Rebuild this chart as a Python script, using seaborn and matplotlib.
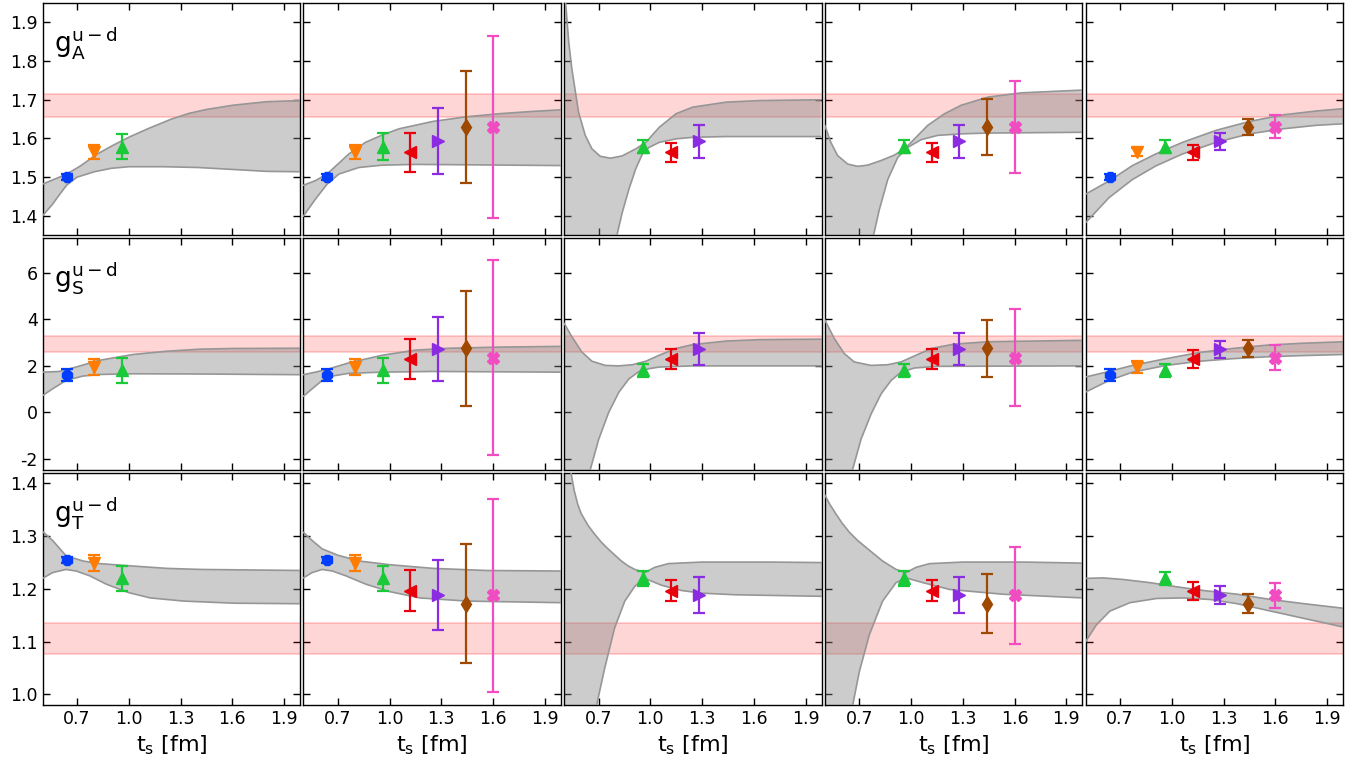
import numpy as np
import matplotlib
matplotlib.use("Agg")
import matplotlib.pyplot as plt
import seaborn as sns

# source-sink separations [fm] and marker shapes
ts = [0.64, 0.80, 0.96, 1.12, 1.28, 1.44, 1.60]
markers = ['8', 'v', '^', '<', '>', 'd', 'X']
msizes = [8, 9, 9, 9, 9, 8, 9]

row_labels = [r'$\mathregular{g_A^{u-d}}$', r'$\mathregular{g_S^{u-d}}$', r'$\mathregular{g_T^{u-d}}$']

# data points (same central values in every column)
gA_vals = [1.500, 1.566, 1.579, 1.564, 1.593, 1.630, 1.630]
gS_vals = [1.61, 1.94, 1.80, 2.28, 2.71, 2.74, 2.35]
gT_vals = [1.255, 1.249, 1.220, 1.197, 1.188, 1.172, 1.188]

# error bars per column
gA_err = [[0.008, 0.018, 0.033, 0, 0, 0, 0],
          [0.008, 0.018, 0.034, 0.050, 0.085, 0.144, 0.236],
          [0, 0, 0.016, 0.025, 0.043, 0, 0],
          [0, 0, 0.016, 0.025, 0.043, 0.072, 0.118],
          [0.008, 0.010, 0.017, 0.020, 0.022, 0.020, 0.030]]
gS_err = [[0.25, 0.35, 0.53, 0, 0, 0, 0],
          [0.25, 0.35, 0.53, 0.86, 1.38, 2.48, 4.20],
          [0, 0, 0.27, 0.43, 0.70, 0, 0],
          [0, 0, 0.27, 0.43, 0.70, 1.24, 2.10],
          [0.25, 0.27, 0.27, 0.39, 0.37, 0.37, 0.54]]
gT_err = [[0.005, 0.015, 0.024, 0, 0, 0, 0],
          [0.005, 0.015, 0.024, 0.038, 0.066, 0.113, 0.183],
          [0, 0, 0.014, 0.020, 0.034, 0, 0],
          [0, 0, 0.014, 0.020, 0.034, 0.056, 0.092],
          [0, 0, 0.013, 0.017, 0.017, 0.018, 0.024]]

# which t_s are shown in each column
shown_gA = [[0, 1, 2], [0, 1, 2, 3, 4, 5, 6], [2, 3, 4], [2, 3, 4, 5, 6], [0, 1, 2, 3, 4, 5, 6]]
shown_gS = shown_gA
shown_gT = [[0, 1, 2], [0, 1, 2, 3, 4, 5, 6], [2, 3, 4], [2, 3, 4, 5, 6], [2, 3, 4, 5, 6]]

# final estimates (red bands): (low, high)
gA_final = (1.656, 1.716)
gS_final = (2.57, 3.29)
gT_final = (1.076, 1.135)

# fit bands: per column (x, y) of upper and lower edges
gA_upper = [
    ([0.5, 0.641, 0.723, 0.81, 0.907, 1.004, 1.12, 1.246, 1.35, 1.45, 1.605, 1.798, 1.992],
     [1.482, 1.508, 1.530, 1.558, 1.582, 1.604, 1.627, 1.650, 1.665, 1.675, 1.686, 1.695, 1.698]),
    ([0.5, 0.57, 0.638, 0.764, 0.86, 0.958, 1.055, 1.25, 1.443, 1.637, 1.83, 1.99],
     [1.479, 1.491, 1.508, 1.560, 1.590, 1.609, 1.625, 1.644, 1.656, 1.664, 1.670, 1.674]),
    ([0.5, 0.51, 0.527, 0.545, 0.584, 0.623, 0.662, 0.71, 0.768, 0.837, 0.915, 0.974, 1.052, 1.149, 1.246, 1.441, 1.636, 1.987],
     [2.10, 1.947, 1.85, 1.781, 1.668, 1.608, 1.573, 1.554, 1.549, 1.555, 1.573, 1.590, 1.629, 1.664, 1.681, 1.694, 1.698, 1.700]),
    ([0.5, 0.535, 0.574, 0.632, 0.69, 0.748, 0.826, 0.903, 0.962, 1.02, 1.097, 1.194, 1.291, 1.446, 1.64, 1.989],
     [1.634, 1.590, 1.556, 1.534, 1.528, 1.531, 1.543, 1.557, 1.573, 1.599, 1.634, 1.664, 1.686, 1.707, 1.718, 1.725]),
    ([0.5, 0.636, 0.772, 0.907, 1.062, 1.256, 1.45, 1.644, 1.837, 1.993],
     [1.456, 1.49, 1.53, 1.56, 1.59, 1.621, 1.644, 1.661, 1.671, 1.677]),
]
gA_lower = [
    ([0.5, 0.558, 0.6, 0.641, 0.7, 0.8, 0.9, 1.0, 1.2, 1.4, 1.6, 1.8, 1.992],
     [1.400, 1.430, 1.456, 1.480, 1.500, 1.514, 1.523, 1.527, 1.527, 1.525, 1.520, 1.515, 1.514]),
    ([0.5, 0.57, 0.638, 0.706, 0.822, 0.958, 1.152, 1.443, 1.99],
     [1.399, 1.443, 1.482, 1.508, 1.525, 1.531, 1.533, 1.532, 1.530]),
    ([0.5, 0.6, 0.7, 0.75, 0.808, 0.837, 0.876, 0.915, 0.954, 0.993, 1.052, 1.149, 1.246, 1.441, 1.987],
     [-0.5, 0.4, 1.0, 1.2, 1.353, 1.408, 1.469, 1.521, 1.560, 1.577, 1.590, 1.599, 1.603, 1.605, 1.605]),
    ([0.5, 0.6, 0.7, 0.75, 0.784, 0.816, 0.865, 0.923, 0.981, 1.059, 1.155, 1.291, 1.446, 1.989],
     [0.0, 0.7, 1.15, 1.28, 1.353, 1.416, 1.494, 1.551, 1.577, 1.597, 1.608, 1.612, 1.614, 1.616]),
    ([0.5, 0.636, 0.772, 0.907, 1.062, 1.256, 1.45, 1.644, 1.837, 1.993],
     [1.382, 1.447, 1.494, 1.529, 1.56, 1.59, 1.612, 1.625, 1.634, 1.638]),
]

gS_upper = [
    ([0.5, 0.597, 0.694, 0.829, 1.023, 1.217, 1.411, 1.605, 1.992],
     [1.72, 1.75, 1.94, 2.23, 2.48, 2.62, 2.71, 2.74, 2.75]),
    ([0.5, 0.57, 0.638, 0.764, 0.958, 1.152, 1.346, 1.64, 1.99],
     [1.61, 1.72, 1.84, 2.12, 2.45, 2.67, 2.75, 2.80, 2.83]),
    ([0.5, 0.545, 0.603, 0.662, 0.74, 0.818, 0.896, 0.974, 1.052, 1.149, 1.247, 1.441, 1.636, 1.997],
     [3.83, 3.25, 2.59, 2.19, 2.01, 1.99, 2.04, 2.19, 2.45, 2.74, 2.91, 3.06, 3.12, 3.14]),
    ([0.5, 0.555, 0.613, 0.671, 0.768, 0.865, 0.942, 1.02, 1.117, 1.252, 1.446, 1.99],
     [3.97, 3.17, 2.52, 2.16, 2.01, 2.04, 2.16, 2.42, 2.74, 2.93, 3.03, 3.09]),
    ([0.5, 0.636, 0.772, 0.966, 1.16, 1.353, 1.547, 1.741, 1.993],
     [1.51, 1.75, 2.01, 2.30, 2.57, 2.74, 2.88, 2.96, 3.03]),
]
gS_lower = [
    ([0.5, 0.558, 0.636, 0.733, 0.829, 1.023, 1.411, 1.992],
     [0.71, 1.0, 1.36, 1.55, 1.62, 1.65, 1.64, 1.61]),
    ([0.5, 0.551, 0.609, 0.667, 0.764, 0.958, 1.25, 1.99],
     [0.68, 1.0, 1.36, 1.55, 1.67, 1.72, 1.75, 1.72]),
    ([0.5, 0.6, 0.652, 0.701, 0.759, 0.818, 0.876, 0.935, 0.993, 1.052, 1.246, 1.997],
     [-9.0, -4.3, -2.48, -1.17, -0.01, 0.86, 1.43, 1.75, 1.87, 1.94, 1.99, 1.99]),
    ([0.5, 0.6, 0.661, 0.71, 0.768, 0.826, 0.884, 0.942, 1.02, 1.155, 1.99],
     [-9.0, -4.6, -2.48, -1.17, -0.09, 0.78, 1.36, 1.72, 1.90, 1.97, 1.99]),
    ([0.5, 0.636, 0.772, 0.966, 1.16, 1.353, 1.547, 1.741, 1.993],
     [0.86, 1.36, 1.72, 2.01, 2.19, 2.30, 2.38, 2.43, 2.48]),
]

gT_upper = [
    ([0.5, 0.558, 0.636, 0.734, 0.831, 1.0, 1.221, 1.416, 2.0],
     [1.309, 1.292, 1.263, 1.253, 1.248, 1.244, 1.239, 1.237, 1.235]),
    ([0.5, 0.551, 0.609, 0.7, 0.823, 1.0, 1.253, 1.565, 1.993],
     [1.3075, 1.292, 1.276, 1.264, 1.253, 1.246, 1.239, 1.235, 1.234]),
    ([0.5, 0.541, 0.56, 0.58, 0.599, 0.64, 0.677, 0.715, 0.755, 0.795, 0.832, 0.87, 0.91, 0.968, 1.026, 1.104, 1.298, 1.687, 1.997],
     [1.55, 1.419, 1.385, 1.360, 1.343, 1.320, 1.304, 1.289, 1.276, 1.264, 1.253, 1.244, 1.237, 1.231, 1.241, 1.248, 1.251, 1.251, 1.250]),
    ([0.5, 0.53, 0.563, 0.6, 0.641, 0.69, 0.738, 0.79, 0.835, 0.913, 0.971, 1.029, 1.107, 1.301, 1.65, 1.993],
     [1.378, 1.360, 1.343, 1.325, 1.308, 1.292, 1.279, 1.265, 1.253, 1.237, 1.231, 1.241, 1.248, 1.251, 1.251, 1.249]),
    ([0.5, 0.6, 0.717, 0.873, 1.03, 1.185, 1.379, 1.574, 1.768, 2.005],
     [1.220, 1.221, 1.218, 1.212, 1.204, 1.197, 1.190, 1.180, 1.172, 1.163]),
]
gT_lower = [
    ([0.5, 0.558, 0.636, 0.695, 0.773, 0.87, 1.0, 1.124, 1.319, 1.611, 2.0],
     [1.220, 1.231, 1.237, 1.234, 1.225, 1.209, 1.193, 1.183, 1.177, 1.173, 1.172]),
    ([0.5, 0.551, 0.609, 0.668, 0.746, 0.863, 1.0, 1.175, 1.448, 1.993],
     [1.221, 1.231, 1.237, 1.234, 1.225, 1.209, 1.195, 1.183, 1.177, 1.174]),
    ([0.5, 0.6, 0.65, 0.689, 0.735, 0.793, 0.852, 0.91, 0.968, 1.065, 1.182, 1.3, 1.492, 1.997],
     [0.0, 0.7, 0.88, 0.98, 1.049, 1.126, 1.177, 1.205, 1.220, 1.207, 1.197, 1.192, 1.189, 1.186]),
    ([0.5, 0.6, 0.662, 0.7, 0.758, 0.835, 0.913, 0.971, 1.068, 1.224, 1.534, 1.993],
     [0.2, 0.8, 0.98, 1.043, 1.113, 1.177, 1.212, 1.221, 1.212, 1.199, 1.190, 1.183]),
    ([0.5, 0.563, 0.641, 0.757, 0.913, 1.068, 1.224, 1.379, 1.574, 1.768, 2.005],
     [1.100, 1.132, 1.158, 1.174, 1.182, 1.183, 1.180, 1.172, 1.158, 1.144, 1.127]),
]

rows = [
    (gA_vals, gA_err, shown_gA, gA_final, gA_upper, gA_lower, (1.35, 1.95), [1.4, 1.5, 1.6, 1.7, 1.8, 1.9], '%.1f'),
    (gS_vals, gS_err, shown_gS, gS_final, gS_upper, gS_lower, (-2.5, 7.5), [-2, 0, 2, 4, 6], '%d'),
    (gT_vals, gT_err, shown_gT, gT_final, gT_upper, gT_lower, (0.98, 1.42), [1.0, 1.1, 1.2, 1.3, 1.4], '%.1f'),
]

sns.set_style("ticks")
plt.rcParams['font.family'] = ['DejaVu Sans']
plt.rcParams['mathtext.fontset'] = 'dejavusans'
plt.rcParams['axes.unicode_minus'] = False
for key in ['text.color', 'axes.labelcolor', 'xtick.color', 'ytick.color', 'axes.edgecolor']:
    plt.rcParams[key] = 'black'
colors = sns.color_palette("bright", 7)

fig, axes = plt.subplots(3, 5, figsize=(13.72, 7.68), dpi=100, sharex=True, sharey='row')
fig.subplots_adjust(left=0.031, right=0.979, top=0.996, bottom=0.082, wspace=0.012, hspace=0.012)

for r, (vals, errs, shown, final, upper, lower, ylim, yticks, yfmt) in enumerate(rows):
    for c in range(5):
        ax = axes[r, c]
        xu, yu = np.array(upper[c][0]), np.array(upper[c][1])
        xl, yl = np.array(lower[c][0]), np.array(lower[c][1])
        # final estimate (underneath the fit band)
        ax.axhspan(final[0], final[1], color='red', alpha=0.16, lw=0, zorder=1)
        for yv in final:
            ax.axhline(yv, color='red', alpha=0.2, lw=1.2, zorder=1)
        # fit band
        ax.fill(np.r_[xu, xl[::-1]], np.r_[yu, yl[::-1]], color='gray', alpha=0.4, lw=0, zorder=2)
        sns.lineplot(x=xu, y=yu, ax=ax, sort=False, estimator=None, color='#969696', lw=1.2, zorder=3)
        sns.lineplot(x=xl, y=yl, ax=ax, sort=False, estimator=None, color='#969696', lw=1.2, zorder=3)
        # data
        for i in shown[c]:
            ax.errorbar(ts[i], vals[i], yerr=errs[c][i], fmt=markers[i], color=colors[i],
                        ms=msizes[i], capsize=4, elinewidth=1.6, capthick=1.6, zorder=5)
        ax.set_xlim(0.5, 1.993)
        ax.set_ylim(*ylim)
        ax.set_xticks([0.7, 1.0, 1.3, 1.6, 1.9])
        ax.set_yticks(yticks)
        ax.xaxis.set_major_formatter(matplotlib.ticker.FormatStrFormatter('%.1f'))
        ax.yaxis.set_major_formatter(matplotlib.ticker.FormatStrFormatter(yfmt))
        ax.tick_params(direction='in', top=True, right=True, length=5, width=1,
                       labelsize=12.5, color='black', labelcolor='black')
        for sp in ax.spines.values():
            sp.set_linewidth(1.0)
            sp.set_color('black')
        ax.set_xlabel('')
        ax.set_ylabel('')
        if c == 0:
            ax.text(0.045, 0.905, row_labels[r], transform=ax.transAxes, fontsize=19,
                    va='top', ha='left', color='black')
        if r == 2:
            ax.set_xlabel(r'$\mathregular{t_s}$ [fm]', fontsize=16, color='black')

fig.savefig('out.png', dpi=100)
